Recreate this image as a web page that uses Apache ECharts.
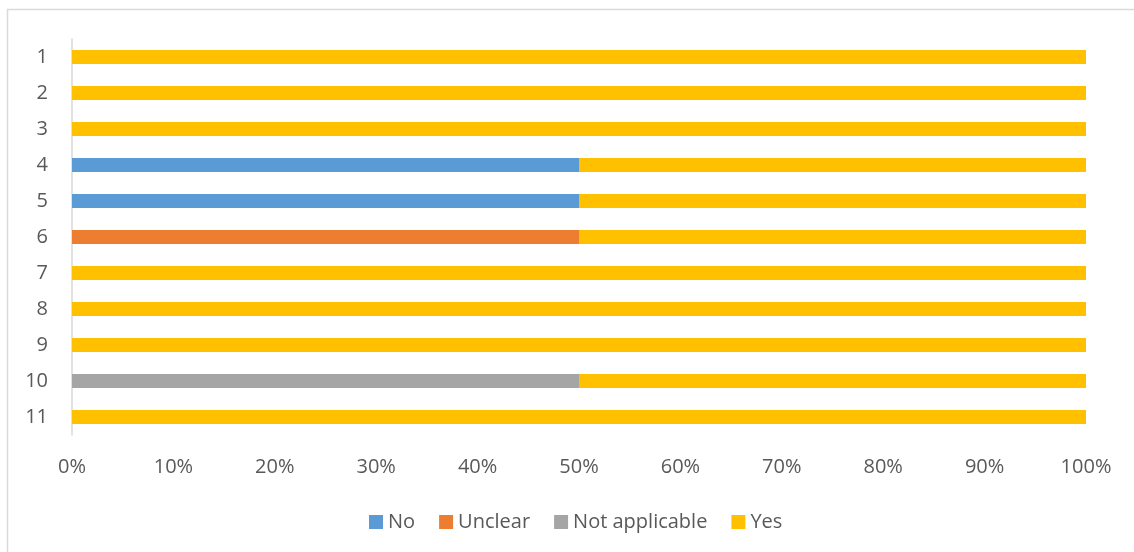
<!DOCTYPE html>
<html>
<head>
<meta charset="utf-8">
<script src="https://cdn.jsdelivr.net/npm/echarts@6/dist/echarts.min.js"></script>
<style>
  html, body { margin: 0; padding: 0; background: #ffffff; }
  #chart { width: 1134px; height: 552px; }
</style>
</head>
<body>
<div id="chart"></div>
<script>
// Question numbers, top to bottom
const categories = ['1', '2', '3', '4', '5', '6', '7', '8', '9', '10', '11'];

// Share of answers per question (%)
const noValues            = [0, 0, 0, 50, 50, 0, 0, 0, 0, 0, 0];
const unclearValues       = [0, 0, 0, 0, 0, 50, 0, 0, 0, 0, 0];
const notApplicableValues = [0, 0, 0, 0, 0, 0, 0, 0, 0, 50, 0];
const yesValues           = [100, 100, 100, 50, 50, 50, 100, 100, 100, 50, 100];

const xTicks = { min: 0, max: 100, interval: 10 };

const textColor = '#595959';
const fontFamily = '"Open Sans", "Liberation Sans", sans-serif';

const chart = echarts.init(document.getElementById('chart'), null, { renderer: 'canvas' });

function barSeries(name, data, color) {
  return {
    name: name,
    type: 'bar',
    stack: 'total',
    data: data,
    barWidth: 14,
    itemStyle: { color: color },
    emphasis: { disabled: true },
    animation: false
  };
}

chart.setOption({
  animation: false,
  textStyle: { fontFamily: fontFamily },
  graphic: [{
    type: 'rect',
    shape: { x: 7.5, y: 9.5, width: 1200, height: 600 },
    style: { fill: 'none', stroke: '#d9d9d9', lineWidth: 1.5 },
    silent: true
  }],
  grid: { left: 72, right: 48, top: 39, bottom: 117 },
  legend: {
    left: 364,
    top: 507,
    icon: 'rect',
    itemWidth: 14,
    itemHeight: 14,
    itemGap: 24,
    textStyle: { color: textColor, fontSize: 20, fontFamily: fontFamily },
    data: ['No', 'Unclear', 'Not applicable', 'Yes']
  },
  xAxis: {
    type: 'value',
    min: xTicks.min,
    max: xTicks.max,
    interval: xTicks.interval,
    axisLine: { show: false },
    axisTick: { show: false },
    splitLine: { show: false },
    axisLabel: {
      formatter: '{value}%',
      color: textColor,
      fontSize: 20,
      margin: 22,
      fontFamily: fontFamily
    }
  },
  yAxis: {
    type: 'category',
    inverse: true,
    data: categories,
    axisLine: { show: true, lineStyle: { color: '#d9d9d9', width: 1.5 } },
    axisTick: { show: false },
    axisLabel: {
      color: textColor,
      fontSize: 20,
      margin: 24,
      fontFamily: fontFamily
    }
  },
  series: [
    barSeries('No', noValues, '#5B9BD5'),
    barSeries('Unclear', unclearValues, '#ED7D31'),
    barSeries('Not applicable', notApplicableValues, '#A5A5A5'),
    barSeries('Yes', yesValues, '#FFC000')
  ]
});
</script>
</body>
</html>
